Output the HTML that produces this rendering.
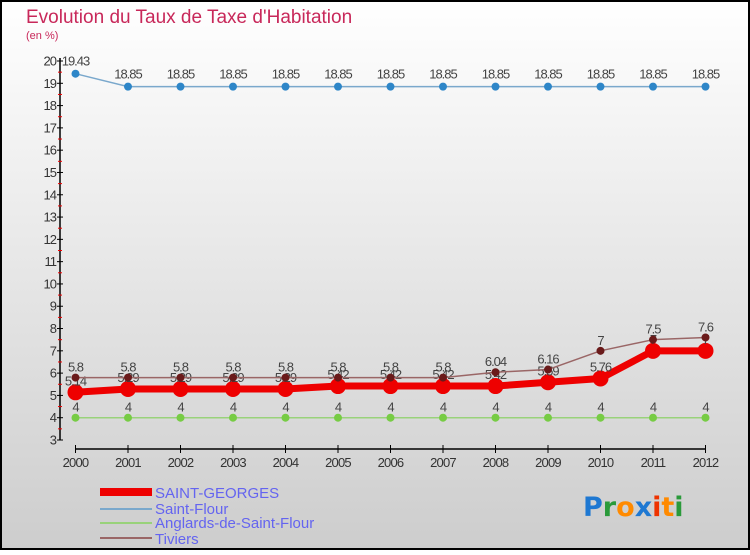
<!DOCTYPE html>
<html><head><meta charset="utf-8"><style>
html,body{margin:0;padding:0}
body{width:750px;height:550px;overflow:hidden;font-family:"Liberation Sans",sans-serif}
</style></head><body>
<svg width="750" height="550" xmlns="http://www.w3.org/2000/svg">
<defs><linearGradient id="bg" x1="0" y1="0" x2="0" y2="1"><stop offset="0" stop-color="#ffffff"/><stop offset="1" stop-color="#cdcdcd"/></linearGradient></defs>
<rect x="1" y="1" width="748" height="548" fill="url(#bg)" stroke="#000" stroke-width="2"/>
<text x="26" y="23" font-size="19" fill="#c8285a">Evolution du Taux de Taxe d'Habitation</text>
<text x="26" y="39" font-size="11" fill="#c8285a">(en %)</text>
<g id="axes"></g>
<g id="series"></g>
<g>
<rect x="100" y="488" width="52" height="8" fill="#ee0000"/>
<text x="155" y="498" font-size="15" fill="#6464f0">SAINT-GEORGES</text>
<rect x="100" y="508" width="52" height="2" fill="#7aa8cc"/>
<text x="155" y="514" font-size="15" fill="#6464f0">Saint-Flour</text>
<rect x="100" y="522" width="52" height="2" fill="#99d27a"/>
<text x="155" y="528" font-size="15" fill="#6464f0">Anglards-de-Saint-Flour</text>
<rect x="100" y="537" width="52" height="2" fill="#9a6666"/>
<text x="155" y="544" font-size="15" fill="#6464f0">Tiviers</text>
</g>
<g font-size="27" font-family="'DejaVu Sans',sans-serif" font-weight="bold">
<text x="583" y="516"><tspan fill="#1e78d2">P</tspan><tspan fill="#2a9a3a">r</tspan><tspan fill="#ff8a00">o</tspan><tspan fill="#1e78d2">x</tspan><tspan fill="#ee3300">i</tspan><tspan fill="#ff8a00">t</tspan><tspan fill="#2a9a3a">i</tspan></text>
</g>
</svg>
<script>
const years = ["2000","2001","2002","2003","2004","2005","2006","2007","2008","2009","2010","2011","2012"];
const saintGeorges = [5.14,5.29,5.29,5.29,5.29,5.42,5.42,5.42,5.42,5.59,5.76,7,7];
const saintFlour = [19.43,18.85,18.85,18.85,18.85,18.85,18.85,18.85,18.85,18.85,18.85,18.85,18.85];
const anglards = [4,4,4,4,4,4,4,4,4,4,4,4,4];
const tiviers = [5.8,5.8,5.8,5.8,5.8,5.8,5.8,5.8,6.04,6.16,7,7.5,7.6];
const yTicks = [3,4,5,6,7,8,9,10,11,12,13,14,15,16,17,18,19,20];

const NS="http://www.w3.org/2000/svg";
const X=i=>75.5+i*52.5;
const Y=v=>440-(v-3)*(379/17);
function mk(tag,attrs,parent){const e=document.createElementNS(NS,tag);for(const k in attrs)e.setAttribute(k,attrs[k]);parent.appendChild(e);return e;}
const ax=document.getElementById('axes');
let a=mk('line',{x1:60,y1:Y(20)-3,x2:60,y2:440,stroke:'#000','stroke-width':1.5},ax);


yTicks.forEach(v=>{
  const y=Y(v);
  mk('line',{x1:57,y1:y,x2:63,y2:y,stroke:'#000'},ax);
  if(v<20) mk('line',{x1:58,y1:y-11.15,x2:62,y2:y-11.15,stroke:'#e00'},ax);
  const t=mk('text',{x:56,y:y+4.5,'font-size':13,'text-anchor':'end',fill:'#333','letter-spacing':'-1'},ax);
  t.textContent=v;
  
  
});
let xa=mk('line',{x1:X(0),y1:449,x2:X(12),y2:449,stroke:'#000','stroke-width':1.5},ax);


years.forEach((yr,i)=>{
  mk('line',{x1:X(i),y1:445,x2:X(i),y2:453,stroke:'#000'},ax);
  const t=mk('text',{x:X(i),y:467,'font-size':13,'text-anchor':'middle',fill:'#333','letter-spacing':'-0.8'},ax);
  t.textContent=yr;
  
  
});
const sg=document.getElementById('series');
function series(name,data,color,w,r,dot,dy){
  const g=mk('g',{},sg);
  
  
  mk('polyline',{points:data.map((v,i)=>X(i)+','+Y(v)).join(' '),fill:'none',stroke:color,'stroke-width':w,'stroke-linejoin':'round'},g);
  data.forEach((v,i)=>{
    const c=mk('circle',{cx:X(i),cy:Y(v),r:r,fill:dot,stroke:dot},g);
    
    
    const t=mk('text',{x:X(i),y:Y(v)+dy,'font-size':13,'text-anchor':'middle',fill:'#444','letter-spacing':'-1'},g);
    t.textContent=String(v);
    
    
  });
}
series('anglards',anglards,'#99d27a',1.5,3.5,'#77cc44',-6);
series('saint-flour',saintFlour,'#7aa8cc',1.5,3.5,'#2e86c8',-8);
series('saint-georges',saintGeorges,'#ee0000',7,7.5,'#ee0000',-7);
series('tiviers',tiviers,'#9a6666',1.5,3.5,'#6a1a1a',-6);
</script>
</body></html>
